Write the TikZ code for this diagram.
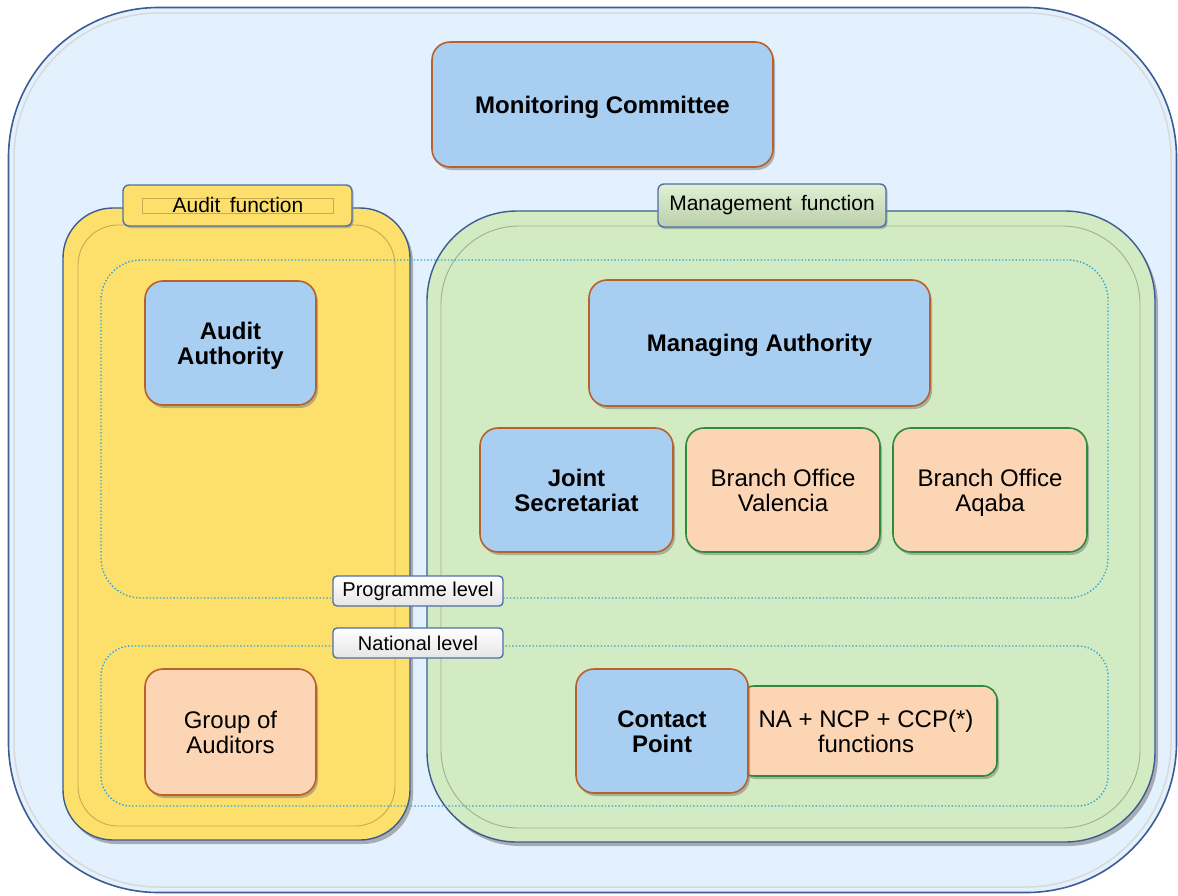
\documentclass[tikz,border=0pt]{standalone}
\usepackage{fontspec}
\setmainfont{Liberation Sans}
\usetikzlibrary{shadows}
\definecolor{bgblue}{HTML}{E3F0FD}
\definecolor{outerline}{HTML}{3D5C92}
\definecolor{boxblue}{HTML}{A8CEF2}
\definecolor{boxorange}{HTML}{FCD5B5}
\definecolor{brownline}{HTML}{B8612A}
\definecolor{greenline}{HTML}{2E8B3E}
\definecolor{auditfill}{HTML}{FDE06C}
\definecolor{mgmtfill}{HTML}{D3EBC2}
\definecolor{tabline}{HTML}{4F6FA8}
\definecolor{dotline}{HTML}{2BA8D8}
\newcommand\topst{\rule{0pt}{25.5pt}}
\newcommand\onest{\rule{0pt}{22.5pt}}
\tikzset{
  shade/.style={drop shadow={shadow xshift=2pt,shadow yshift=-3pt,opacity=0.55}},
  bluebox/.style={shade,fill=boxblue,draw=brownline,line width=1.6pt,rounded corners=18pt,
     align=center,font=\fontsize{24}{25}\selectfont\bfseries,inner sep=0pt},
  orangebox/.style={shade,fill=boxorange,draw=greenline,line width=1.6pt,rounded corners=18pt,
     align=center,font=\fontsize{24}{25}\selectfont,inner sep=0pt},
  panel/.style={draw=outerline,line width=1.4pt,inner sep=0pt,drop shadow={shadow xshift=3pt,shadow yshift=-4pt,opacity=0.6}},
  tabbox/.style={draw=tabline,line width=1.4pt,rounded corners=6pt,inner sep=0pt,
     font=\fontsize{21}{24}\selectfont,drop shadow={shadow xshift=1.5pt,shadow yshift=-2pt,opacity=0.5}},
  levelbox/.style={draw=tabline,line width=1.4pt,rounded corners=4pt,inner sep=0pt,
     top color=white,bottom color=white!80!gray,font=\fontsize{20}{22}\selectfont},
  dotbox/.style={draw=dotline,dotted,line width=1.4pt,rounded corners=40pt},
  bevel/.style={draw=black!25,line width=0.9pt}
}
\begin{document}
\begin{tikzpicture}[x=1pt,y=-1pt]
\useasboundingbox (0,0) rectangle (1178,895);
% outer frame
\node[draw=outerline,fill=bgblue,line width=1.6pt,rounded corners=150pt,minimum width=1168pt,minimum height=885pt,inner sep=0pt] (outer) at (592.5,450) {};
\draw[draw=black!15,line width=1.5pt,rounded corners=145pt] (14,13) rectangle (1171,887);
% audit panel
\node[panel,fill=auditfill,rounded corners=50pt,minimum width=347pt,minimum height=632pt] (audit) at (236.5,524) {};
\draw[bevel,draw=black!20!auditfill!80!brown,rounded corners=40pt] (78,225) rectangle (395,826);
% management panel
\node[panel,fill=mgmtfill,rounded corners=90pt,minimum width=728pt,minimum height=631pt] (mgmt) at (791,526.5) {};
\draw[bevel,draw=black!25!mgmtfill,rounded corners=78pt] (441,226) rectangle (1140,828);
% level dotted boxes
\node[dotbox,minimum width=1007pt,minimum height=338pt,inner sep=0pt] (proglev) at (604.5,429) {};
\node[dotbox,rounded corners=30pt,minimum width=1007pt,minimum height=160pt,inner sep=0pt] (natlev) at (604.5,726) {};
% tabs
\node[tabbox,fill=auditfill,minimum width=229pt,minimum height=41pt] (audittab) at (237.5,205.5) {};
\draw[draw=black!20!auditfill!85!brown,line width=0.8pt] (142,198) rectangle (333,213);
\node[font=\fontsize{21}{24}\selectfont] (audittxt) at (238,205) {Audit\, function};
\node[tabbox,top color=mgmtfill!70!white,bottom color=mgmtfill!88!black,minimum width=228pt,minimum height=43pt] (mgmttab) at (772,205.5) {Management\, function};
% level labels
\node[levelbox,minimum width=170pt,minimum height=30pt] (proglab) at (418,591) {Programme level};
\node[levelbox,minimum width=170pt,minimum height=30pt] (natlab) at (418,643) {National level};
% boxes
\node[bluebox,minimum width=341pt,minimum height=125pt] (mc) at (602.5,104.5) {\onest Monitoring Committee};
\node[bluebox,minimum width=171pt,minimum height=124pt] (aa) at (230.5,343) {\topst Audit\\\strut Authority};
\node[bluebox,minimum width=341pt,minimum height=126pt] (ma) at (759.5,343) {\onest Managing Authority};
\node[bluebox,minimum width=193pt,minimum height=124pt] (js) at (576.5,490) {\topst Joint\\\strut Secretariat};
\node[orangebox,minimum width=194pt,minimum height=124pt] (bov) at (783,490) {\topst Branch Office\\\strut Valencia};
\node[orangebox,minimum width=194pt,minimum height=124pt] (boa) at (990,490) {\topst Branch Office\\\strut Aqaba};
\node[orangebox,draw=brownline,minimum width=171pt,minimum height=126pt] (ga) at (230.5,732) {\topst Group of\\\strut Auditors};
\node[orangebox,rounded corners=14pt,minimum width=257pt,minimum height=90pt] (na) at (868.5,731) {};
\node[font=\fontsize{24}{25}\selectfont,align=center] (natxt) at (866,731) {\topst NA + NCP + CCP(*)\\\strut functions};
\node[bluebox,minimum width=172pt,minimum height=124pt] (cp) at (662,731) {\topst Contact\\\strut Point};
\end{tikzpicture}
\end{document}
